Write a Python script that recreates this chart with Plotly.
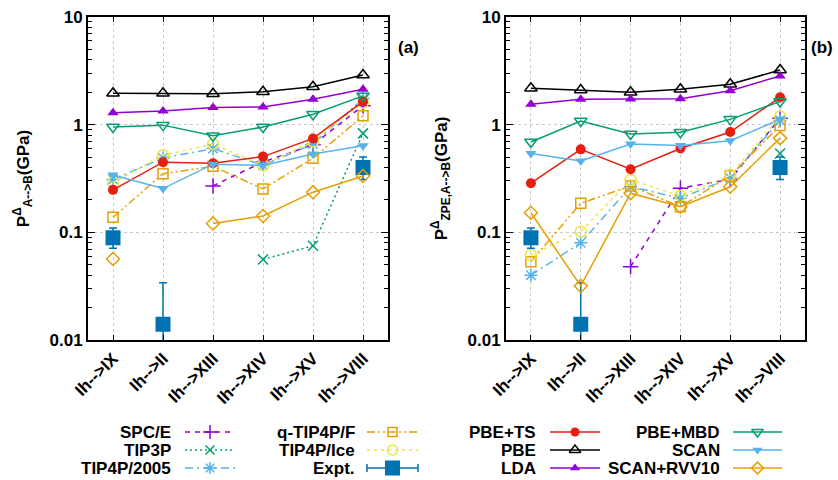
import plotly.graph_objects as go

# ---------------- data ----------------
categories = ["Ih-->IX", "Ih-->II", "Ih-->XIII", "Ih-->XIV", "Ih-->XV", "Ih-->VIII"]
y_tick_vals = [0.01, 0.1, 1, 10]
y_tick_text = ["0.01", "0.1", "1", "10"]

# panel (a)  P^Δ A-->B (GPa)
a_spce = [None, None, 0.27, 0.45, 0.65, 1.5]
a_tip3p = [None, None, None, 0.056, 0.075, 0.83]
a_tip4p2005 = [0.31, 0.49, 0.60, 0.42, 0.66, 1.75]
a_qtip4pf = [0.138, 0.35, 0.41, 0.253, 0.487, 1.21]
a_tip4pice = [0.29, 0.52, 0.66, 0.42, 0.70, 1.6]
a_pbets = [0.248, 0.448, 0.438, 0.505, 0.745, 1.64]
a_pbe = [1.96, 1.96, 1.94, 2.02, 2.25, 2.89]
a_lda = [1.29, 1.34, 1.44, 1.46, 1.72, 2.13]
a_pbembd = [0.95, 0.99, 0.79, 0.95, 1.25, 1.85]
a_scan = [0.341, 0.255, 0.43, 0.417, 0.535, 0.638]
a_scanrvv10 = [0.0566, None, 0.121, 0.142, 0.236, 0.334]

# panel (b)  P^Δ ZPE,A-->B (GPa)
b_spce = [None, None, 0.048, 0.257, 0.31, 1.15]
b_tip3p = [None, None, None, None, None, 0.54]
b_tip4p2005 = [0.040, 0.080, 0.266, 0.207, 0.32, 1.1]
b_qtip4pf = [0.0534, 0.186, 0.27, 0.173, 0.336, 0.98]
b_tip4pice = [0.0617, 0.1015, 0.307, 0.218, 0.34, 1.19]
b_pbets = [0.286, 0.59, 0.385, 0.60, 0.855, 1.80]
b_pbe = [2.18, 2.10, 2.00, 2.13, 2.37, 3.22]
b_lda = [1.55, 1.72, 1.73, 1.74, 2.07, 2.83]
b_pbembd = [0.69, 1.08, 0.82, 0.85, 1.12, 1.64]
b_scan = [0.54, 0.46, 0.66, 0.64, 0.71, 1.12]
b_scanrvv10 = [0.152, 0.0318, 0.231, 0.173, 0.265, 0.75]

# experiment (same in both panels)
expt = [0.089, 0.014, None, None, None, 0.40]
expt_err_plus = [0.021, 0.020, None, None, None, 0.10]
expt_err_minus = [0.018, 0.0095, None, None, None, 0.09]

series_order = ["SPC/E", "TIP3P", "TIP4P/2005", "q-TIP4P/F", "TIP4P/Ice", "Expt.",
                "PBE+TS", "PBE", "LDA", "PBE+MBD", "SCAN", "SCAN+RVV10"]
panel_a = {"SPC/E": a_spce, "TIP3P": a_tip3p, "TIP4P/2005": a_tip4p2005,
           "q-TIP4P/F": a_qtip4pf, "TIP4P/Ice": a_tip4pice, "PBE+TS": a_pbets,
           "PBE": a_pbe, "LDA": a_lda, "PBE+MBD": a_pbembd, "SCAN": a_scan,
           "SCAN+RVV10": a_scanrvv10}
panel_b = {"SPC/E": b_spce, "TIP3P": b_tip3p, "TIP4P/2005": b_tip4p2005,
           "q-TIP4P/F": b_qtip4pf, "TIP4P/Ice": b_tip4pice, "PBE+TS": b_pbets,
           "PBE": b_pbe, "LDA": b_lda, "PBE+MBD": b_pbembd, "SCAN": b_scan,
           "SCAN+RVV10": b_scanrvv10}

# ---------------- styles ----------------
VIOLET, GREEN, SKY, ORANGE, YELLOW, BLUE, RED, BLACK = (
    "#9400D3", "#009E73", "#56B4E9", "#E69F00", "#F0E442", "#0072B2", "#E51E10", "#000000")
styles = {
    "SPC/E": dict(color=VIOLET, dash="5px,5px", symbol="cross-thin-open", size=11, filled=False),
    "TIP3P": dict(color=GREEN, dash="2px,3px", symbol="x-thin-open", size=10, filled=False),
    "TIP4P/2005": dict(color=SKY, dash="8px,4px,2px,4px", symbol="asterisk-open", size=11, filled=False),
    "q-TIP4P/F": dict(color=ORANGE, dash="8px,3px,2px,3px,2px,3px", symbol="square-open", size=10, filled=False),
    "TIP4P/Ice": dict(color=YELLOW, dash="3px,4px", symbol="circle-open", size=11, filled=False),
    "PBE+TS": dict(color=RED, dash="solid", symbol="circle", size=10, filled=True),
    "PBE": dict(color=BLACK, dash="solid", symbol="triangle-up-open", size=11, filled=False),
    "LDA": dict(color=VIOLET, dash="solid", symbol="triangle-up", size=10, filled=True),
    "PBE+MBD": dict(color=GREEN, dash="solid", symbol="triangle-down-open", size=11, filled=False),
    "SCAN": dict(color=SKY, dash="solid", symbol="triangle-down", size=10, filled=True),
    "SCAN+RVV10": dict(color=ORANGE, dash="solid", symbol="diamond-open", size=10, filled=False),
}
FONT = "Liberation Sans, Arial, sans-serif"
FS = 17

W, H = 838, 480
PX_L0, PX_L1 = 88, 388
PX_R0, PX_R1 = 506, 805
PY_TOP, PY_BOT = 17, 340

fig = go.Figure()


def add_series(name, vals, xa, ya):
    st = styles[name]
    fig.add_trace(go.Scatter(
        x=categories, y=vals, mode="lines+markers", name=name, showlegend=False,
        xaxis=xa, yaxis=ya, connectgaps=False,
        line=dict(color=st["color"], width=1.5, dash=st["dash"]),
        marker=dict(symbol=st["symbol"], size=st["size"], color=st["color"],
                    line=dict(color=st["color"], width=0 if st["filled"] else 1.5)),
    ))


def add_expt(xa, ya):
    fig.add_trace(go.Scatter(
        x=categories, y=expt, mode="markers", name="Expt.", showlegend=False,
        xaxis=xa, yaxis=ya,
        marker=dict(symbol="square", size=15, color=BLUE),
        error_y=dict(type="data", symmetric=False, array=expt_err_plus,
                     arrayminus=expt_err_minus, color=BLUE, thickness=1.5, width=4),
    ))


for xa, ya, data in (("x", "y", panel_a), ("x2", "y2", panel_b)):
    for name in series_order:
        if name == "Expt.":
            add_expt(xa, ya)
        else:
            add_series(name, data[name], xa, ya)

# ---------------- legend (drawn manually, gnuplot-style) ----------------
legend_rows = [432, 450, 468]
legend_cols = [
    (173, 185, 235, ["SPC/E", "TIP3P", "TIP4P/2005"]),
    (357, 367, 418, ["q-TIP4P/F", "TIP4P/Ice", "Expt."]),
    (538, 550, 600, ["PBE+TS", "PBE", "LDA"]),
    (722, 733, 782, ["PBE+MBD", "SCAN", "SCAN+RVV10"]),
]
annotations = []
for text_right, s0, s1, names in legend_cols:
    for yrow, name in zip(legend_rows, names):
        xm = (s0 + s1) / 2
        annotations.append(dict(x=text_right, y=yrow, xref="x3", yref="y3", text=name,
                                showarrow=False, xanchor="right", yanchor="middle",
                                font=dict(family=FONT, size=FS, color="black", weight="bold")))
        if name == "Expt.":
            fig.add_trace(go.Scatter(x=[s0, s1], y=[yrow, yrow], mode="lines", xaxis="x3", yaxis="y3",
                                     showlegend=False, hoverinfo="skip",
                                     line=dict(color=BLUE, width=1.5),
                                     error_y=dict(type="constant", value=4, color=BLUE,
                                                  thickness=1.5, width=0)))
            fig.add_trace(go.Scatter(x=[xm], y=[yrow], mode="markers", xaxis="x3", yaxis="y3",
                                     showlegend=False, hoverinfo="skip",
                                     marker=dict(symbol="square", size=15, color=BLUE)))
        else:
            st = styles[name]
            fig.add_trace(go.Scatter(x=[s0, s1], y=[yrow, yrow], mode="lines", xaxis="x3", yaxis="y3",
                                     showlegend=False, hoverinfo="skip",
                                     line=dict(color=st["color"], width=1.5, dash=st["dash"])))
            fig.add_trace(go.Scatter(x=[xm], y=[yrow], mode="markers", xaxis="x3", yaxis="y3",
                                     showlegend=False, hoverinfo="skip",
                                     marker=dict(symbol=st["symbol"], size=st["size"] - 1, color=st["color"],
                                                 line=dict(color=st["color"],
                                                           width=0 if st["filled"] else 1.5))))

# panel labels
for lab, px in (("(a)", 408), ("(b)", 822)):
    annotations.append(dict(x=px, y=47, xref="x3", yref="y3", text=lab, showarrow=False,
                            xanchor="center", yanchor="middle",
                            font=dict(family=FONT, size=FS, color="black", weight="bold")))

ydom = [(H - PY_BOT) / H, (H - PY_TOP) / H]


def xaxis_cfg(p0, p1, anchor):
    return dict(domain=[p0 / W, p1 / W], anchor=anchor, type="category", range=[-0.5, 5.5],
                automargin=False,
                showline=True, linewidth=2, linecolor="black", mirror="ticks",
                ticks="inside", ticklen=5, tickwidth=1, tickcolor="black",
                tickangle=-45, tickfont=dict(family=FONT, size=FS, color="black", weight="bold"),
                showgrid=True, gridcolor="#c8c8c8", griddash="dot", gridwidth=1,
                zeroline=False, fixedrange=True)


def yaxis_cfg(anchor, title):
    return dict(domain=ydom, anchor=anchor, type="log", range=[-2, 1], automargin=False,
                tickvals=y_tick_vals, ticktext=y_tick_text,
                showline=True, linewidth=2, linecolor="black", mirror="ticks",
                ticks="inside", ticklen=7, tickwidth=1, tickcolor="black",
                minor=dict(ticks="inside", ticklen=4, tickcolor="black", tickwidth=1,
                           dtick="D1", showgrid=False),
                tickfont=dict(family=FONT, size=FS, color="black", weight="bold"),
                showgrid=True, gridcolor="#c8c8c8", griddash="dot", gridwidth=1,
                zeroline=False, fixedrange=True,
                title=dict(text=title, standoff=16,
                           font=dict(family=FONT, size=FS, color="black", weight="bold")))


fig.update_layout(
    width=W, height=H,
    margin=dict(l=0, r=0, t=0, b=0, autoexpand=False),
    paper_bgcolor="white", plot_bgcolor="rgba(0,0,0,0)",
    font=dict(family=FONT, size=FS, color="black"),
    showlegend=False,
    xaxis=xaxis_cfg(PX_L0, PX_L1, "y"),
    yaxis=yaxis_cfg("x", "P<sup>Δ</sup><sub>A--&gt;B</sub>(GPa)"),
    xaxis2=xaxis_cfg(PX_R0, PX_R1, "y2"),
    yaxis2=yaxis_cfg("x2", "P<sup>Δ</sup><sub>ZPE,A--&gt;B</sub>(GPa)"),
    xaxis3=dict(domain=[0, 1], range=[0, W], visible=False, fixedrange=True, anchor="y3"),
    yaxis3=dict(domain=[0, 1], range=[H, 0], visible=False, fixedrange=True, anchor="x3"),
    annotations=annotations,
)

fig.write_html(
    "out.html",
    config={"displayModeBar": False, "staticPlot": True},
    post_script="document.body.style.margin='0';document.body.style.overflow='hidden';",
)
